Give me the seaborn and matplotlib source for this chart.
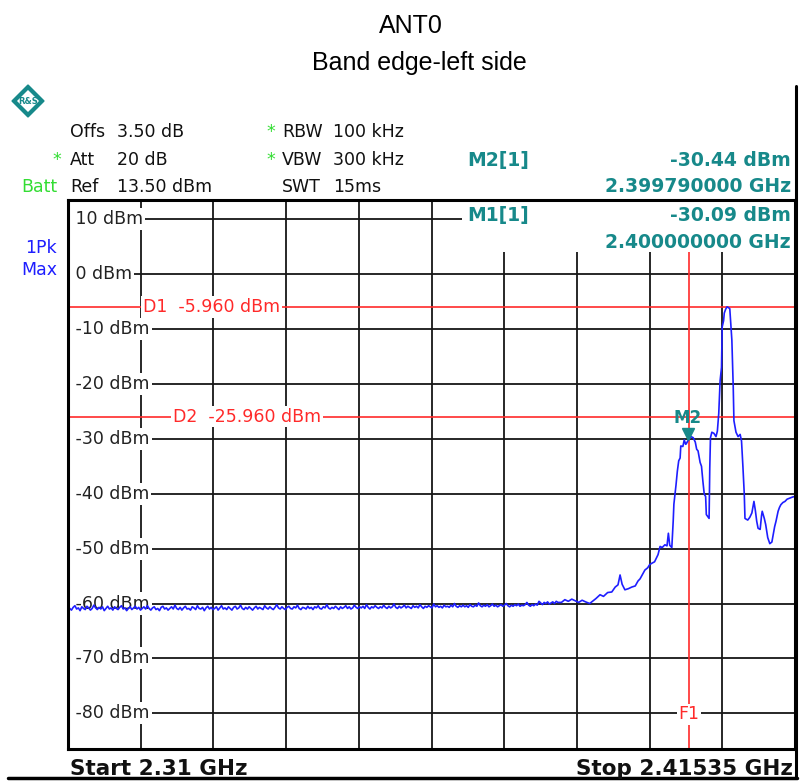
import numpy as np
import pandas as pd
import matplotlib
matplotlib.use("Agg")
import matplotlib.pyplot as plt
import seaborn as sns
from matplotlib.patches import Rectangle, Polygon
from matplotlib.lines import Line2D

# ---------------- data ----------------
START_MHZ = 2310.0
STOP_MHZ = 2415.35
REF_LEVEL = 13.5
BOTTOM_LEVEL = -86.5

# noise floor, sweep points every 0.25 MHz from 2310 MHz
NOISE_STEP_MHZ = 0.25
noise_levels = [
    -60.5, -60.9, -61.2, -60.7, -60.4, -61.0, -60.8, -61.3, -60.6, -60.9,
    -61.1, -60.5, -60.8, -61.2, -60.9, -60.3, -60.8, -61.1, -60.7, -61.0,
    -60.6, -61.3, -60.9, -60.5, -61.0, -60.8, -61.2, -60.6, -60.9, -61.1,
    -60.7, -60.4, -61.0, -60.8, -61.3, -60.9, -60.6, -61.1, -60.8, -60.5,
    -61.0, -60.7, -61.2, -60.9, -60.6, -61.0, -60.4, -60.9, -61.2, -60.8,
    -60.6, -61.1, -60.9, -61.3, -60.7, -60.5, -61.0, -60.8, -61.2, -60.9,
    -60.6, -61.0, -60.3, -60.9, -61.1, -60.7, -61.2, -60.8, -60.5, -61.0,
    -60.9, -61.2, -60.6, -60.8, -61.1, -60.4, -60.9, -61.0, -60.7, -61.3,
    -60.8, -60.5, -61.0, -60.7, -61.1, -60.9, -60.6, -61.2, -60.8, -60.4,
    -61.0, -60.8, -61.1, -60.6, -60.9, -61.2, -60.7, -60.5, -61.0, -60.8,
    -60.3, -60.9, -61.1, -60.7, -61.0, -60.6, -60.9, -61.2, -60.8, -60.5,
    -61.0, -60.7, -60.9, -61.1, -60.4, -60.8, -61.0, -60.6, -60.9, -61.1,
    -60.7, -60.2, -60.8, -61.0, -60.6, -60.9, -61.1, -60.7, -60.5, -60.9,
    -61.0, -60.6, -60.8, -60.3, -60.9, -61.1, -60.7, -60.8, -61.0, -60.5,
    -60.9, -60.7, -61.1, -60.6, -60.8, -60.4, -60.9, -61.0, -60.6, -60.8,
    -60.2, -60.8, -61.0, -60.7, -60.9, -60.5, -60.8, -61.1, -60.6, -60.9,
    -60.7, -60.4, -60.9, -60.6, -61.0, -60.8, -60.3, -60.7, -60.9, -60.6,
    -60.8, -60.5, -60.9, -60.2, -60.7, -61.0, -60.6, -60.8, -60.4, -60.7,
    -60.9, -60.6, -60.8, -60.3, -60.7, -60.9, -60.5, -60.8, -60.6, -60.1,
    -60.7, -60.9, -60.5, -60.8, -60.6, -60.3, -60.8, -60.5, -60.7, -60.9,
    -60.4, -60.7, -60.5, -60.8, -60.2, -60.6, -60.9, -60.5, -60.7, -60.4,
    -60.6, -60.8, -60.1, -60.6, -60.4, -60.7, -60.5, -60.8, -60.3, -60.6,
    -60.5, -60.7, -60.3, -60.6, -60.0, -60.5, -60.7, -60.4, -60.6, -60.3,
    -60.6, -60.4, -60.7, -60.2, -60.5, -60.6, -60.3, -60.5, -59.9, -60.4,
    -60.6, -60.3, -60.5, -60.2, -60.6, -60.4, -60.1, -60.5, -60.3, -60.6,
    -60.4, -60.2, -60.5, -60.3, -60.0, -60.4, -60.6, -60.3, -60.5, -60.2,
    -60.4, -60.1, -60.5, -60.3, -60.4, -60.2, -59.8, -60.3, -60.5, -60.2,
    -60.4, -60.1, -60.3, -59.6, -59.9, -60.2, -59.8, -60.0, -59.7, -60.1,
    -59.9, -59.7, -60.0, -59.6, -59.8,
]

# band-edge region (MHz, dBm)
edge_freqs = [
    2381.5, 2382.0, 2382.5, 2383.0, 2383.5, 2384.0, 2384.5, 2385.0, 2385.6, 2386.0,
    2386.5, 2387.1, 2387.6, 2388.2, 2388.8, 2389.3, 2389.7, 2390.0, 2390.3, 2390.7,
    2391.2, 2391.7, 2392.2, 2392.6, 2392.9, 2393.3, 2393.6, 2394.0, 2394.3, 2394.7,
    2395.0, 2395.3, 2395.5, 2395.8, 2396.1, 2396.5, 2396.8, 2397.0, 2397.2, 2397.5,
    2397.7, 2397.8, 2398.1, 2398.3, 2398.5, 2398.7, 2398.8, 2399.1, 2399.3, 2399.5,
    2399.6, 2399.79, 2400.0, 2400.3, 2400.6, 2400.9, 2401.1, 2401.3, 2401.6, 2401.8,
    2402.0, 2402.2, 2402.4, 2402.5, 2402.9, 2403.0, 2403.1, 2403.3, 2403.6, 2403.9,
    2404.1, 2404.3, 2404.5, 2404.7, 2404.8, 2405.0, 2405.1, 2405.3, 2405.5, 2405.7,
    2405.9, 2406.0, 2406.2, 2406.4, 2406.5, 2406.8, 2407.1, 2407.4, 2407.6, 2407.8,
    2408.0, 2408.1, 2408.5, 2408.8, 2409.1, 2409.4, 2409.6, 2409.8, 2410.0, 2410.3,
    2410.5, 2410.6, 2410.9, 2411.1, 2411.4, 2411.7, 2412.0, 2412.2, 2412.4, 2412.6,
    2412.9, 2413.1, 2413.3, 2413.6, 2413.9, 2414.2, 2414.6, 2415.0, 2415.35,
]
edge_levels = [
    -59.8, -59.3, -59.6, -59.2, -59.5, -59.8, -59.4, -59.7, -60.0, -59.6,
    -59.1, -58.4, -58.7, -58.0, -57.9, -57.0, -56.6, -54.8, -56.5, -57.5,
    -57.3, -57.0, -56.8, -55.9, -55.5, -54.6, -53.9, -53.5, -52.9, -52.6,
    -52.4, -51.6, -51.1, -49.6, -49.8, -49.3, -49.5, -47.2, -49.4, -49.8,
    -45.0, -41.9, -38.5, -35.9, -34.0, -33.5, -31.3, -31.4, -30.2, -31.0,
    -30.9, -30.44, -30.09, -29.6, -29.8, -30.6, -31.9, -32.2, -34.3, -35.0,
    -37.7, -40.1, -40.5, -43.8, -44.5, -35.3, -29.8, -28.8, -29.0, -29.6,
    -28.6, -25.4, -19.4, -17.0, -9.6, -8.5, -7.1, -6.4, -5.96, -6.1,
    -6.3, -8.3, -12.0, -20.6, -26.7, -28.8, -29.6, -29.2, -30.4, -35.0,
    -40.1, -44.5, -44.8, -44.3, -43.5, -41.4, -43.0, -45.0, -46.3, -46.5,
    -44.0, -43.2, -44.5, -45.6, -48.0, -49.1, -48.8, -47.4, -46.0, -45.0,
    -43.2, -42.5, -42.0, -41.6, -41.4, -41.0, -40.8, -40.6, -40.5,
]

grid_levels = [10, 0, -10, -20, -30, -40, -50, -60, -70, -80]
grid_labels = ["10 dBm", "0 dBm", "-10 dBm", "-20 dBm", "-30 dBm",
               "-40 dBm", "-50 dBm", "-60 dBm", "-70 dBm", "-80 dBm"]
N_XDIV = 10

D1_LEVEL = -5.96
D2_LEVEL = -25.96
F1_MHZ = 2400.0
M2_MHZ, M2_LEVEL = 2399.79, -30.44
M1_MHZ, M1_LEVEL = 2400.0, -30.09

noise_freqs = [START_MHZ + i * NOISE_STEP_MHZ for i in range(len(noise_levels))]
df = pd.DataFrame({
    "freq_mhz": noise_freqs + edge_freqs,
    "level_dbm": noise_levels + edge_levels,
})

# ---------------- style ----------------
sns.set_theme(style="white")
plt.rcParams["font.family"] = ["DejaVu Sans"]

TEAL = "#17898a"
GREEN = "#33dd33"
BLUE = "#1e1eff"
RED = "#ff2a2a"
GRIDC = "#161616"

W, H = 802, 782
fig = plt.figure(figsize=(W / 100, H / 100), dpi=100)
fig.patch.set_facecolor("white")


def fx(x):
    return x / W


def fy(y):
    return 1 - y / H


AX_L, AX_R, AX_T, AX_B = 68, 795, 200, 749
ax = fig.add_axes([fx(AX_L), fy(AX_B), fx(AX_R) - fx(AX_L), fy(AX_T) - fy(AX_B)])
ax.set_facecolor("white")
ax.set_xlim(START_MHZ, STOP_MHZ)
ax.set_ylim(BOTTOM_LEVEL, REF_LEVEL)
ax.set_xticks([])
ax.set_yticks([])
for s in ax.spines.values():
    s.set_visible(True)
    s.set_color("black")
    s.set_linewidth(2.2)
    s.set_zorder(10)

span = STOP_MHZ - START_MHZ

# grid
for v in grid_levels:
    ax.axhline(v, color=GRIDC, lw=1.3, zorder=1)
for k in range(1, N_XDIV):
    ax.axvline(START_MHZ + span * k / N_XDIV, color=GRIDC, lw=1.3, zorder=1)

# display lines and frequency line
ax.axhline(D1_LEVEL, color=RED, lw=1.2, zorder=2)
ax.axhline(D2_LEVEL, color=RED, lw=1.2, zorder=2)
ax.axvline(F1_MHZ, color=RED, lw=1.2, zorder=2)


def xpix(px):
    return START_MHZ + (px - AX_L) / (AX_R - AX_L) * span


# level labels
for v, lab in zip(grid_levels, grid_labels):
    ax.text(xpix(70), v, " " + lab, ha="left", va="center", fontsize=12.5,
            color="#222222", zorder=3,
            bbox=dict(boxstyle="square,pad=0.12", fc="white", ec="none"))

ax.text(xpix(143), D1_LEVEL, "D1  -5.960 dBm", ha="left", va="center",
        fontsize=12.5, color=RED, zorder=3,
        bbox=dict(boxstyle="square,pad=0.1", fc="white", ec="none"))
ax.text(xpix(173), D2_LEVEL, "D2  -25.960 dBm", ha="left", va="center",
        fontsize=12.5, color=RED, zorder=3,
        bbox=dict(boxstyle="square,pad=0.1", fc="white", ec="none"))
ax.text(F1_MHZ, -80.2, "F1", ha="center", va="center", fontsize=12.5,
        color=RED, zorder=3,
        bbox=dict(boxstyle="square,pad=0.1", fc="white", ec="none"))

# trace
sns.lineplot(data=df, x="freq_mhz", y="level_dbm", ax=ax, color=BLUE,
             linewidth=1.2, estimator=None, sort=False, zorder=4, legend=False)
ax.set_xlabel("")
ax.set_ylabel("")

# marker M2
ax.plot([M2_MHZ], [M2_LEVEL + 1.3], marker="v", ms=9, color=TEAL, zorder=6,
        linestyle="none")
ax.annotate("M2", xy=(M2_MHZ, M2_LEVEL), xytext=(0, 17), textcoords="offset points",
            ha="center", va="center", fontsize=12, fontweight="bold", color=TEAL,
            zorder=6)

# white box for marker info inside diagram
box_x0 = (462 - AX_L) / (AX_R - AX_L)
box_y0 = (AX_B - 252) / (AX_B - AX_T)
ax.add_patch(Rectangle((box_x0, box_y0), 1 - box_x0, 1 - box_y0,
                       transform=ax.transAxes, fc="white", ec="none", zorder=7))

# ---------------- header texts ----------------
fig.text(fx(411), fy(33), "ANT0", ha="center", va="baseline",
         fontsize=18, family="Liberation Sans", color="black")
fig.text(fx(419), fy(70), "Band edge-left side", ha="center", va="baseline",
         fontsize=18, family="Liberation Sans", color="black")

HS = 12.5
TXT = "#111111"
fig.text(fx(70), fy(137), "Offs", fontsize=HS, va="baseline", color=TXT)
fig.text(fx(117), fy(137), "3.50 dB", fontsize=HS, va="baseline", color=TXT)
fig.text(fx(61), fy(165), "*", fontsize=HS, va="baseline", ha="right", color=GREEN)
fig.text(fx(70), fy(165), "Att", fontsize=HS, va="baseline", color=TXT)
fig.text(fx(117), fy(165), "20 dB", fontsize=HS, va="baseline", color=TXT)
fig.text(fx(57), fy(192), "Batt", fontsize=HS, va="baseline", ha="right", color=GREEN)
fig.text(fx(70), fy(192), "Ref", fontsize=HS, va="baseline", color=TXT)
fig.text(fx(117), fy(192), "13.50 dBm", fontsize=HS, va="baseline", color=TXT)

fig.text(fx(275), fy(137), "*", fontsize=HS, va="baseline", ha="right", color=GREEN)
fig.text(fx(282), fy(137), "RBW", fontsize=HS, va="baseline", color=TXT)
fig.text(fx(333), fy(137), "100 kHz", fontsize=HS, va="baseline", color=TXT)
fig.text(fx(275), fy(165), "*", fontsize=HS, va="baseline", ha="right", color=GREEN)
fig.text(fx(282), fy(165), "VBW", fontsize=HS, va="baseline", color=TXT)
fig.text(fx(333), fy(165), "300 kHz", fontsize=HS, va="baseline", color=TXT)
fig.text(fx(282), fy(192), "SWT", fontsize=HS, va="baseline", color=TXT)
fig.text(fx(333), fy(192), "15ms", fontsize=HS, va="baseline", color=TXT)

fig.text(fx(57), fy(253), "1Pk", fontsize=12.5, va="baseline", ha="right", color=BLUE)
fig.text(fx(57), fy(275), "Max", fontsize=12.5, va="baseline", ha="right", color=BLUE)

MS = 13.5
fig.text(fx(467), fy(166), "M2[1]", fontsize=MS, fontweight="bold", va="baseline",
         color=TEAL)
fig.text(fx(791), fy(166), f"{M2_LEVEL:.2f} dBm", fontsize=MS, fontweight="bold",
         va="baseline", ha="right", color=TEAL)
fig.text(fx(791), fy(192), f"{M2_MHZ / 1000:.9f} GHz", fontsize=MS,
         fontweight="bold", va="baseline", ha="right", color=TEAL)
fig.text(fx(467), fy(221), "M1[1]", fontsize=MS, fontweight="bold", va="baseline",
         color=TEAL, zorder=8)
fig.text(fx(791), fy(221), f"{M1_LEVEL:.2f} dBm", fontsize=MS, fontweight="bold",
         va="baseline", ha="right", color=TEAL, zorder=8)
fig.text(fx(791), fy(248), f"{M1_MHZ / 1000:.9f} GHz", fontsize=MS,
         fontweight="bold", va="baseline", ha="right", color=TEAL, zorder=8)

# bottom texts
fig.text(fx(70), fy(775), f"Start {START_MHZ / 1000:g} GHz", fontsize=15.5,
         fontweight="bold", va="baseline", color=TXT)
fig.text(fx(793), fy(775), f"Stop {STOP_MHZ / 1000:g} GHz", fontsize=15.5,
         fontweight="bold", va="baseline", ha="right", color=TXT)

# outer frame lines
fig.add_artist(Line2D([fx(8), fx(797)], [fy(778), fy(778)], color="black", lw=2.5))
fig.add_artist(Line2D([fx(796), fx(796)], [fy(86), fy(778)], color="black", lw=2.2))

# logo
cx, cy, r = 28, 101, 16
fig.add_artist(Polygon([[fx(cx - r), fy(cy)], [fx(cx), fy(cy - r)], [fx(cx + r), fy(cy)],
                        [fx(cx), fy(cy + r)]], closed=True, fc=TEAL, ec=TEAL,
                       transform=fig.transFigure))
r2 = 11
fig.add_artist(Polygon([[fx(cx - r2), fy(cy)], [fx(cx), fy(cy - r2)], [fx(cx + r2), fy(cy)],
                        [fx(cx), fy(cy + r2)]], closed=True, fc="white", ec="none",
                       transform=fig.transFigure))
fig.text(fx(cx), fy(cy), "R&S", fontsize=6, ha="center", va="center", color=TEAL,
         fontweight="bold")

fig.savefig("out.png", dpi=100, facecolor="white")
